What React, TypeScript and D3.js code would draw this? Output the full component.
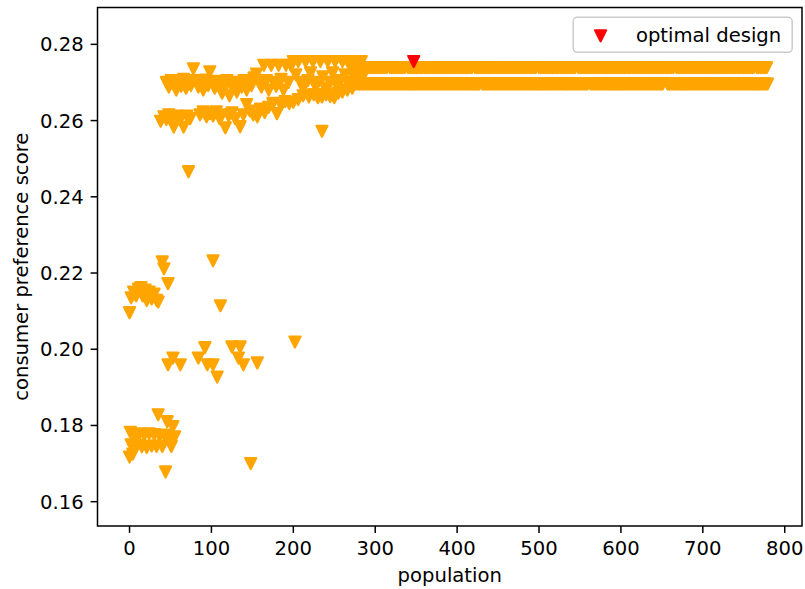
import React from 'react';
import * as d3 from 'd3';

const xTicks = [0, 100, 200, 300, 400, 500, 600, 700, 800];
const yTicks = [0.16, 0.18, 0.2, 0.22, 0.24, 0.26, 0.28];
const xLabel = 'population';
const yLabel = 'consumer preference score';
const legendLabel = 'optimal design';

// [population, score]
const lowCluster: [number, number][] = [
  [0, 0.1717], [1, 0.1782], [2, 0.1749], [4, 0.1725], [6, 0.177], [9, 0.1748], [12, 0.1778],
  [15, 0.1744], [18, 0.1775], [21, 0.1742], [24, 0.1778], [27, 0.1746], [30, 0.1776], [33, 0.1745],
  [35, 0.1828], [37, 0.1772], [40, 0.1745], [43, 0.1775], [44, 0.1678], [46, 0.181], [48, 0.176],
  [51, 0.1745], [53, 0.1797], [55, 0.177], [148, 0.17],
];

const midCluster: [number, number][] = [
  [47, 0.1959], [53, 0.1977], [62, 0.1959], [84, 0.1977], [92, 0.2004], [95, 0.1959], [102, 0.1959],
  [107, 0.1927], [125, 0.2006], [133, 0.1977], [135, 0.2006], [139, 0.1959], [156, 0.1964], [202, 0.2019],
];

const upperMidCluster: [number, number][] = [
  [0, 0.2096], [2, 0.2135], [5, 0.215], [8, 0.214], [11, 0.2158], [14, 0.2162], [16, 0.214],
  [19, 0.2155], [21, 0.2128], [24, 0.215], [27, 0.2132], [30, 0.2145], [33, 0.2128], [35, 0.2124],
  [40, 0.2229], [42, 0.2211], [47, 0.2172], [102, 0.2232], [111, 0.2114],
];

const outliers: [number, number][] = [[72, 0.2466], [235, 0.2572]];

const lowerRow: [number, number][] = [
  [38, 0.2598], [42, 0.261], [45, 0.2603], [48, 0.2615], [51, 0.26], [54, 0.2583], [58, 0.2612],
  [62, 0.2605], [66, 0.2583], [70, 0.2612], [74, 0.2605], [86, 0.2615], [90, 0.2623], [94, 0.261],
  [98, 0.2618], [102, 0.2612], [106, 0.2623], [110, 0.2605], [113, 0.2615], [117, 0.2581], [121, 0.2612],
  [125, 0.262], [129, 0.2605], [135, 0.2584], [139, 0.2615], [143, 0.2642], [147, 0.2625], [151, 0.2615],
  [156, 0.261], [160, 0.263], [165, 0.2621], [170, 0.2635], [175, 0.2645], [180, 0.2618], [185, 0.264],
  [190, 0.265], [195, 0.2645], [200, 0.2648], [206, 0.2655], [212, 0.2665], [219, 0.2662], [225, 0.2668],
  [230, 0.266], [235, 0.2662], [240, 0.2668], [245, 0.2663], [250, 0.266], [255, 0.2672], [260, 0.2675],
  [266, 0.268], [272, 0.2685],
];

const upperCloud: [number, number][] = [
  [45, 0.27], [48, 0.2688], [51, 0.2705], [54, 0.2695], [57, 0.268], [60, 0.2702], [63, 0.269],
  [66, 0.2708], [69, 0.2685], [72, 0.27], [75, 0.2692], [78, 0.2736], [81, 0.2705], [84, 0.2688],
  [87, 0.27], [90, 0.268], [93, 0.2706], [96, 0.2692], [98, 0.2728], [101, 0.27], [104, 0.2685],
  [107, 0.2703], [110, 0.269], [113, 0.2672], [116, 0.2695], [119, 0.2705], [122, 0.2665], [125, 0.269],
  [128, 0.2698], [131, 0.2675], [134, 0.27], [137, 0.2688], [140, 0.2705], [143, 0.268], [146, 0.27],
  [149, 0.2692], [152, 0.2712], [155, 0.2722], [158, 0.27], [161, 0.2688], [164, 0.2745], [167, 0.2705],
  [170, 0.268], [173, 0.2745], [176, 0.27], [179, 0.269], [182, 0.2745], [185, 0.2708], [188, 0.268],
  [191, 0.2745], [194, 0.27], [197, 0.2745], [200, 0.2755], [203, 0.272], [206, 0.2755], [209, 0.27],
  [212, 0.2685], [215, 0.2755], [218, 0.2705], [221, 0.2725], [224, 0.2755], [227, 0.269], [230, 0.27],
  [233, 0.2755], [236, 0.2715], [239, 0.2685], [242, 0.2755], [245, 0.27], [248, 0.2725], [251, 0.2755],
  [254, 0.269], [257, 0.2705], [260, 0.2755], [263, 0.272], [266, 0.27], [269, 0.2755], [272, 0.269],
  [275, 0.271], [278, 0.2755], [281, 0.27], [283, 0.2755], [286, 0.272], [289, 0.2739],
];

const bandHighScore = 0.2739;
const bandHighPop = [
  270, 272, 274, 276, 278, 280, 282, 284, 286, 288, 290, 292, 294, 296, 298, 300, 302, 304, 306, 308,
  310, 312, 314, 318, 320, 322, 324, 326, 328, 330, 332, 334, 336, 340, 342, 344, 346, 348, 350, 352,
  354, 356, 358, 360, 362, 364, 366, 368, 370, 372, 374, 376, 378, 380, 382, 384, 386, 388, 390, 392,
  394, 396, 398, 400, 402, 404, 406, 408, 410, 412, 414, 416, 418, 422, 424, 426, 428, 430, 432, 434,
  436, 438, 440, 442, 444, 446, 448, 450, 452, 454, 456, 458, 460, 462, 464, 466, 468, 470, 472, 474,
  476, 478, 480, 482, 484, 486, 488, 490, 492, 494, 496, 500, 502, 504, 506, 508, 510, 512, 514, 516,
  518, 520, 522, 524, 526, 528, 530, 532, 534, 536, 538, 540, 542, 544, 548, 550, 552, 554, 556, 558,
  560, 562, 564, 566, 568, 570, 572, 574, 576, 578, 580, 582, 584, 586, 588, 590, 592, 594, 596, 598,
  600, 602, 604, 606, 608, 610, 612, 614, 616, 618, 620, 622, 624, 626, 628, 630, 632, 634, 636, 638,
  640, 642, 644, 646, 648, 650, 652, 654, 656, 658, 660, 662, 664, 668, 670, 672, 674, 676, 678, 680,
  682, 684, 686, 688, 690, 692, 694, 696, 698, 700, 702, 704, 706, 708, 710, 712, 714, 716, 718, 720,
  722, 724, 726, 728, 730, 732, 734, 736, 738, 740, 742, 744, 746, 748, 750, 752, 754, 756, 758, 760,
  762, 766, 768, 770, 772, 774, 776, 778,
];

const bandLowScore = 0.2696;
const bandLowPop = [
  271, 273, 275, 277, 279, 281, 283, 285, 287, 289, 291, 293, 295, 297, 299, 301, 303, 305, 307, 309,
  311, 313, 315, 317, 319, 321, 323, 325, 327, 329, 331, 333, 335, 337, 339, 341, 343, 345, 347, 349,
  351, 353, 355, 357, 359, 361, 363, 365, 367, 369, 371, 373, 375, 377, 379, 381, 383, 385, 387, 389,
  391, 393, 395, 397, 399, 401, 403, 405, 407, 409, 411, 413, 415, 417, 419, 421, 423, 425, 427, 431,
  433, 435, 437, 439, 441, 443, 445, 447, 449, 451, 453, 455, 457, 459, 461, 463, 465, 467, 469, 471,
  473, 475, 477, 479, 481, 483, 485, 487, 489, 491, 493, 495, 497, 499, 501, 503, 505, 507, 509, 511,
  513, 515, 517, 519, 521, 523, 525, 527, 529, 531, 533, 535, 537, 539, 541, 543, 545, 547, 549, 551,
  553, 555, 557, 559, 563, 565, 567, 569, 571, 573, 575, 577, 579, 581, 583, 585, 587, 589, 591, 593,
  595, 597, 599, 601, 603, 605, 607, 609, 611, 613, 615, 617, 619, 621, 623, 625, 627, 629, 631, 633,
  635, 637, 639, 641, 643, 645, 647, 649, 651, 657, 659, 661, 663, 665, 667, 669, 671, 673, 675, 677,
  679, 681, 683, 685, 687, 689, 691, 693, 695, 697, 699, 701, 703, 705, 707, 709, 711, 713, 715, 717,
  719, 721, 723, 725, 727, 729, 731, 733, 735, 737, 739, 741, 743, 745, 747, 749, 751, 753, 755, 757,
  759, 761, 763, 765, 767, 769, 771, 773, 775, 777, 779,
];

const optimal: [number, number][] = [[347, 0.2755]];

const ORANGE = '#ffa500';
const RED = '#ff0000';
const FONT = '"DejaVu Sans", sans-serif';
const FS = 19.6;

const W = 805;
const H = 589;
const PL = 97.5;
const PR = 802;
const PT = 7.5;
const PB = 526;
const MS = 11;
const SW = 2.2;

function triDown(s: number) {
  const h = s / 2;
  return `M0,${h}L${-h},${-h}L${h},${-h}Z`;
}

export default function App() {
  const x = d3.scaleLinear().domain([-39.1, 821.1]).range([PL, PR]);
  const y = d3.scaleLinear().domain([0.15362, 0.28967]).range([PB, PT]);

  const orangePts: [number, number][] = [
    ...lowCluster,
    ...midCluster,
    ...upperMidCluster,
    ...outliers,
    ...lowerRow,
    ...upperCloud,
    ...bandHighPop.map((p) => [p, bandHighScore] as [number, number]),
    ...bandLowPop.map((p) => [p, bandLowScore] as [number, number]),
  ];
  const path = triDown(MS);
  const tickLen = 6.9;
  const pad = 6.9;

  const legW = 219;
  const legH = 35;
  const legX = PR - 9.8 - legW;
  const legY = PT + 9.8;

  return (
    <svg width={W} height={H} style={{ position: 'absolute', left: 0, top: 0, background: '#fff' }}
      fontFamily={FONT}>
      <rect x={0} y={0} width={W} height={H} fill="#fff" />
      <clipPath id="plotclip">
        <rect x={PL} y={PT} width={PR - PL} height={PB - PT} />
      </clipPath>
      <g clipPath="url(#plotclip)">
        {orangePts.map((d, i) => (
          <path key={'o' + i} d={path} transform={`translate(${x(d[0])},${y(d[1])})`}
            fill={ORANGE} stroke={ORANGE} strokeWidth={SW} strokeLinejoin="round" />
        ))}
        {optimal.map((d, i) => (
          <path key={'r' + i} d={path} transform={`translate(${x(d[0])},${y(d[1])})`}
            fill={RED} stroke={RED} strokeWidth={SW} strokeLinejoin="round" />
        ))}
      </g>
      <rect x={PL} y={PT} width={PR - PL} height={PB - PT} fill="none" stroke="#000" strokeWidth={1.5} />
      {xTicks.map((t) => (
        <g key={'x' + t}>
          <line x1={x(t)} x2={x(t)} y1={PB} y2={PB + tickLen} stroke="#000" strokeWidth={1.5} />
          <text x={x(t)} y={PB + tickLen + pad + 15} textAnchor="middle" fontSize={FS} fill="#000">{t}</text>
        </g>
      ))}
      {yTicks.map((t) => (
        <g key={'y' + t}>
          <line x1={PL - tickLen} x2={PL} y1={y(t)} y2={y(t)} stroke="#000" strokeWidth={1.5} />
          <text x={PL - tickLen - pad} y={y(t) + 7} textAnchor="end" fontSize={FS} fill="#000">{t.toFixed(2)}</text>
        </g>
      ))}
      <text x={(PL + PR) / 2} y={582} textAnchor="middle" fontSize={FS} fill="#000">{xLabel}</text>
      <text transform={`translate(28,${(PT + PB) / 2}) rotate(-90)`} textAnchor="middle" fontSize={FS} fill="#000">{yLabel}</text>
      <g>
        <rect x={legX} y={legY} width={legW} height={legH} rx={4} fill="#fff" fillOpacity={0.8} stroke="#cccccc" strokeWidth={1.5} />
        <path d={path} transform={`translate(${legX + 7.8 + 19.6},${legY + legH / 2 + 1})`} fill={RED} stroke={RED} strokeWidth={SW} strokeLinejoin="round" />
        <text x={legX + 7.8 + 39.2 + 15.7} y={legY + legH / 2 + 7} fontSize={FS} fill="#000">{legendLabel}</text>
      </g>
    </svg>
  );
}
